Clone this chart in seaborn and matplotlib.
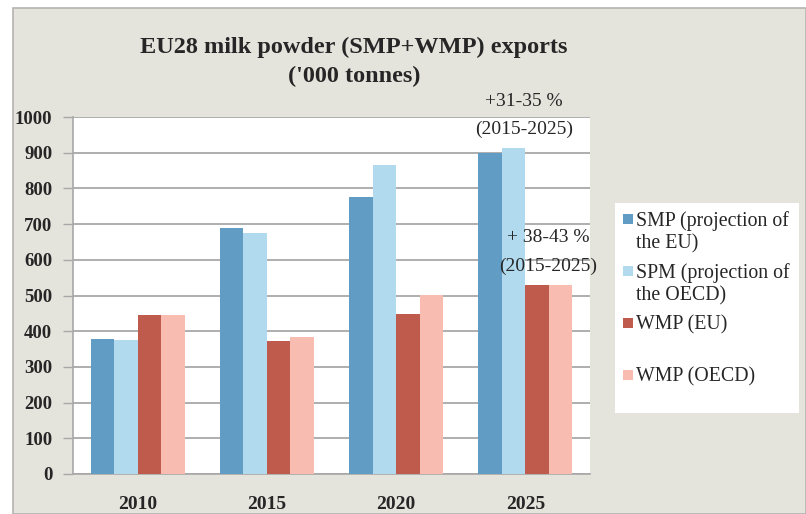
import matplotlib
matplotlib.use("Agg")
import matplotlib.pyplot as plt
from matplotlib.patches import Rectangle
import pandas as pd
import seaborn as sns

# Export volumes, '000 tonnes
years = ["2010", "2015", "2020", "2025"]
smp_eu = [377, 689, 775, 900]
smp_oecd = [375, 675, 866, 912]
wmp_eu = [446, 372, 447, 530]
wmp_oecd = [444, 384, 502, 530]

series_names = ["SMP (projection of\nthe EU)", "SPM (projection of\nthe OECD)",
                "WMP (EU)", "WMP (OECD)"]
series_values = [smp_eu, smp_oecd, wmp_eu, wmp_oecd]
colors = ["#619cc4", "#b2daef", "#be5b4c", "#f9bcb0"]

y_ticks = list(range(0, 1001, 100))

rows = []
for name, vals in zip(series_names, series_values):
    for yr, v in zip(years, vals):
        rows.append({"year": yr, "series": name, "value": v})
df = pd.DataFrame(rows)

sns.set_theme(style="white")
plt.rcParams["font.family"] = ["Liberation Serif", "DejaVu Serif"]

W, H = 806, 514
fig = plt.figure(figsize=(W / 100, H / 100), dpi=100, facecolor="white")


def fx(px):
    return px / W


def fy(py):
    return 1 - py / H


# grey slide background with a thin border
fig.patches.append(Rectangle((fx(13), 0), 1 - fx(13), fy(8), transform=fig.transFigure,
                             facecolor="#e4e3dc", edgecolor="#b4b4b0", lw=1.2, zorder=-5))

ax = fig.add_axes([fx(73), fy(474), fx(590) - fx(73), fy(117) - fy(474)])
ax.set_zorder(2)
ax.set_facecolor("white")

sns.barplot(data=df, x="year", y="value", hue="series", hue_order=series_names,
            palette=colors, width=0.727, gap=0, saturation=1, legend=False,
            edgecolor="none", linewidth=0, ax=ax, zorder=3)

ax.set_ylim(0, 1000)
ax.set_xlim(-0.5, 3.5)
ax.set_yticks(y_ticks)
ax.set_yticklabels([str(t) for t in y_ticks], fontsize=13.5, fontweight="bold")
ax.yaxis.grid(True, color="#a8a8a8", lw=1.3, zorder=0)
ax.set_axisbelow(True)
ax.set_xlabel("")
ax.set_ylabel("")

ax.set_xticks(range(len(years)))
ax.set_xticklabels(years, fontsize=14, fontweight="bold")
ax.set_xticks([i - 0.5 for i in range(len(years) + 1)], minor=True)
ax.tick_params(axis="x", which="major", length=0, pad=16)
ax.tick_params(axis="x", which="minor", length=5, width=1, color="#a8a8a8", direction="out")
ax.tick_params(axis="y", which="major", length=7, width=1, color="#a8a8a8",
               direction="out", pad=8, left=True)

for side in ["top", "right"]:
    ax.spines[side].set_visible(False)
for side in ["left", "bottom"]:
    ax.spines[side].set_color("#a8a8a8")
    ax.spines[side].set_linewidth(1.2)

# title
fig.text(fx(354), fy(47), "EU28 milk powder (SMP+WMP) exports", ha="center", va="center",
         fontsize=17.5, fontweight="bold")
fig.text(fx(354), fy(76), "('000 tonnes)", ha="center", va="center",
         fontsize=17.5, fontweight="bold")

# growth notes
fig.text(fx(524), fy(101), "+31-35 %", ha="center", va="center", fontsize=14, zorder=5)
fig.text(fx(524), fy(129), "(2015-2025)", ha="center", va="center", fontsize=14, zorder=5)
fig.text(fx(548), fy(238), "+ 38-43 %", ha="center", va="center", fontsize=14, zorder=5)
fig.text(fx(548), fy(266), "(2015-2025)", ha="center", va="center", fontsize=14, zorder=5)

# legend panel
fig.patches.append(Rectangle((fx(615), fy(413)), fx(799) - fx(615), fy(203) - fy(413),
                             transform=fig.transFigure, facecolor="white",
                             edgecolor="none", zorder=1))
legend_rows = [222, 274, 326, 378]
for name, col, yr in zip(series_names, colors, legend_rows):
    fig.patches.append(Rectangle((fx(623), fy(yr + 2)), fx(10), fy(0) - fy(10),
                                 transform=fig.transFigure, facecolor=col,
                                 edgecolor="none", zorder=2))
    fig.text(fx(636), fy(yr - 11), name, ha="left", va="top", fontsize=14.3,
             linespacing=1.25, zorder=3)

fig.savefig("out.png", dpi=100, facecolor=fig.get_facecolor())
